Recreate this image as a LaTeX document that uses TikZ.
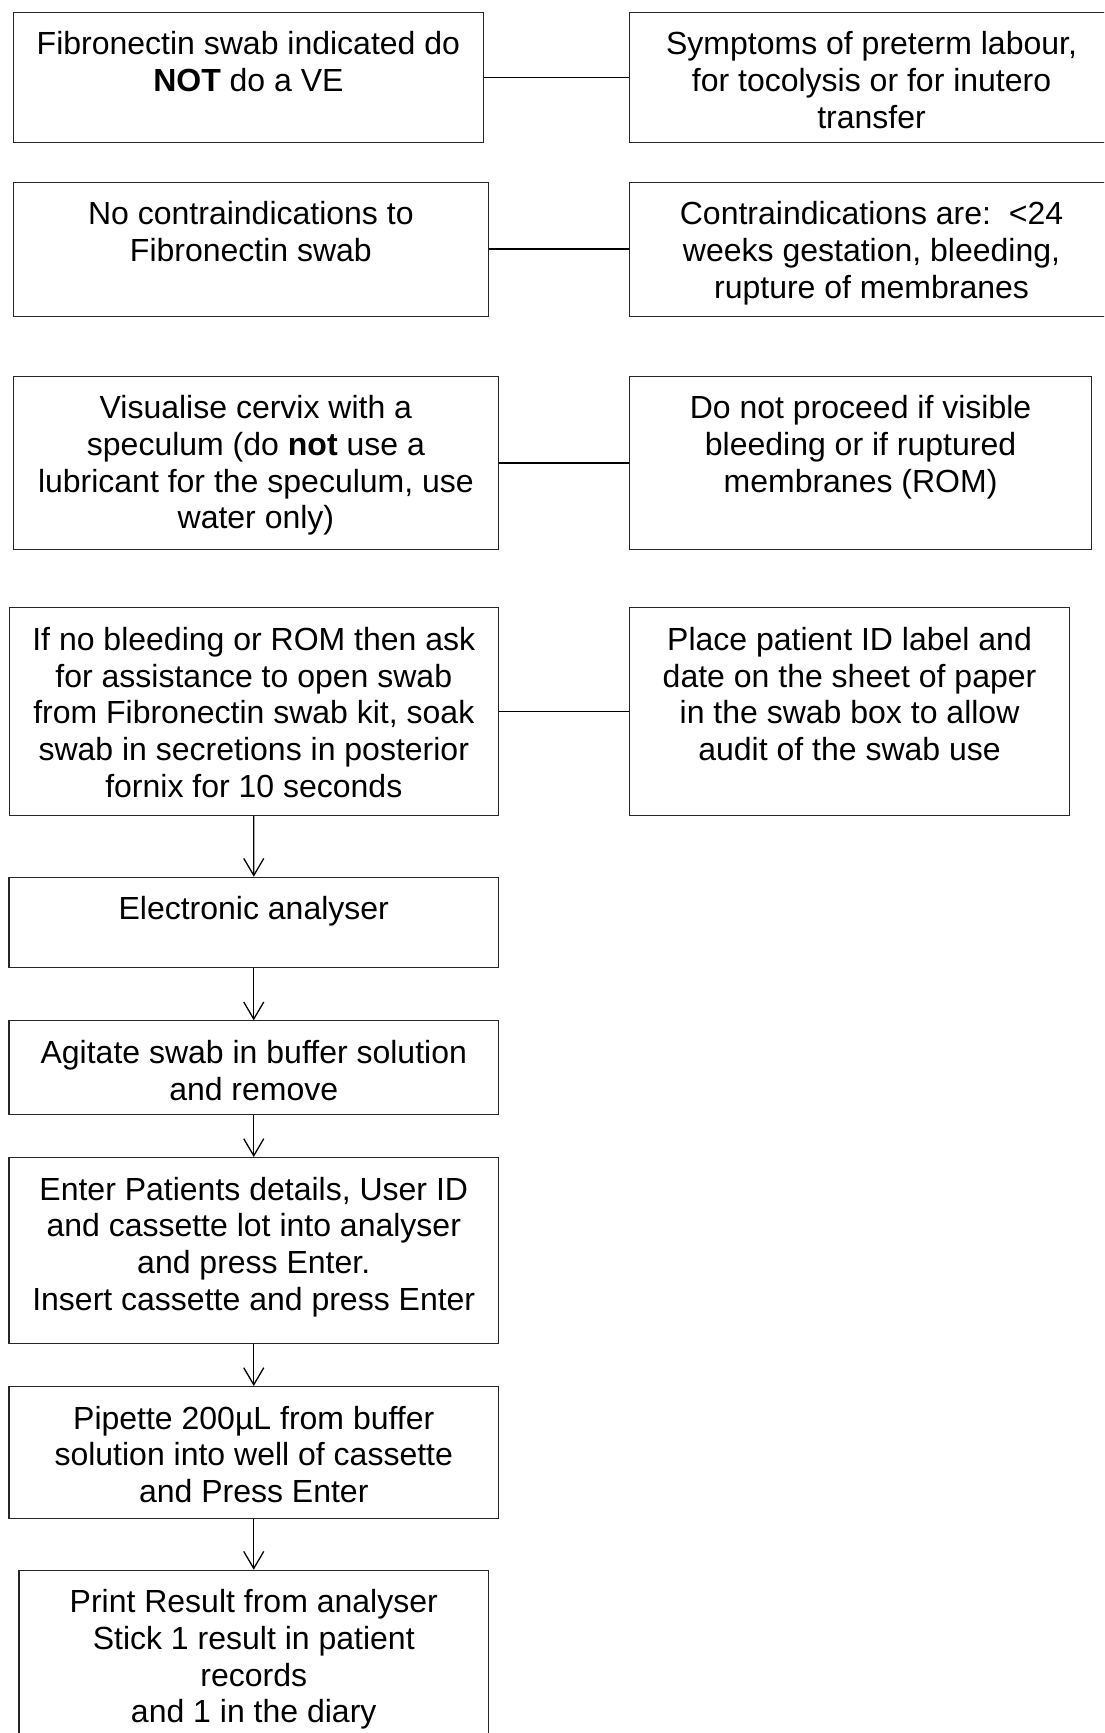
\documentclass[tikz,border=0pt]{standalone}
\usepackage{fontspec}
\setmainfont{Liberation Sans}
\usetikzlibrary{arrows.meta}
\newcommand{\cellfont}{\fontsize{32}{36.7}\selectfont}
% width, height, text (top aligned, centred)
\newcommand{\celltext}[3]{\parbox[c][#2pt][t]{#1pt}{\centering\rule{0pt}{42.5pt}#3}}

\begin{document}
\begin{tikzpicture}[x=1pt,y=-1pt,
    cell/.style={draw=black!85, line width=1.1pt, inner sep=0pt, anchor=north west, font=\cellfont},
    link/.style={line width=1.8pt},
    flow/.style={line width=1.3pt, -{Straight Barb[length=17pt,width=20pt]}}]
	\useasboundingbox (0,0) rectangle (1104,1733);
	\clip (0,0) rectangle (1104,1733);
	%%%%% RIGHT COLUMN %%%%%
	\node[cell] (symptoms) at (629, 11.7) {\celltext{484}{130.3}{Symptoms of preterm labour,\\ for tocolysis or for inutero\\ transfer}};
	\node[cell] (cilist) at (629, 181.7) {\celltext{484}{134}{Contraindications are:~~<24\\ weeks gestation, bleeding,\\ rupture of membranes}};
	\node[cell] (noproceed) at (629, 375.7) {\celltext{462}{173.6}{Do not proceed if visible\\ bleeding or if ruptured\\ membranes (ROM)}};
	\node[cell] (idlabel) at (629, 607.3) {\celltext{440}{207.4}{Place patient ID label and\\ date on the sheet of paper\\ in the swab box to allow\\ audit of the swab use}};
	
	%%%%% LEFT COLUMN %%%%%
	\node[cell] (fnswab) at (12.7, 11.7) {\celltext{470.3}{130.3}{Fibronectin swab indicated do\\ \textbf{NOT} do a VE}};
	\node[cell] (noci) at (12.7, 181.7) {\celltext{475.3}{134}{No contraindications to\\ Fibronectin swab}};
	\node[cell] (visual) at (12.7, 375.7) {\celltext{485.3}{173.6}{Visualise cervix with a\\ speculum (do \textbf{not} use a\\ lubricant for the speculum, use\\ water only)}};
	\node[cell] (soak) at (8.5, 607.3) {\celltext{489.5}{207.4}{If no bleeding or ROM then ask\\ for assistance to open swab\\ from Fibronectin swab kit, soak\\ swab in secretions in posterior\\ fornix for 10 seconds}};
	\node[cell] (analyser) at (8.4, 876.7) {\celltext{489.6}{90}{Electronic analyser}};
	\node[cell] (agitate) at (8.4, 1020.3) {\celltext{489.6}{93.4}{Agitate swab in buffer solution\\ and remove}};
	\node[cell] (details) at (8.4, 1157) {\celltext{489.6}{185.7}{Enter Patients details, User ID\\ and cassette lot into analyser\\ and press Enter.\\ Insert cassette and press Enter}};
	\node[cell] (pipette) at (8.4, 1386) {\celltext{489.6}{132}{Pipette 200µL from buffer\\ solution into well of cassette\\ and Press Enter}};
	\node[cell] (result) at (18.4, 1569.7) {\celltext{469.6}{200}{Print Result from analyser\\ Stick 1 result in patient\\ records\\ and 1 in the diary}};
	
	%%%%% LINKS %%%%%
	\draw[link] (fnswab) -- (symptoms);
	\draw[link] (noci) -- (cilist);
	\draw[link] (visual) -- (noproceed);
	\draw[link] (soak) -- (idlabel);
	
	\draw[flow] (soak) -- (analyser);
	\draw[flow] (analyser) -- (agitate);
	\draw[flow] (agitate) -- (details);
	\draw[flow] (details) -- (pipette);
	\draw[flow] (pipette) -- (result);
\end{tikzpicture}
\end{document}
